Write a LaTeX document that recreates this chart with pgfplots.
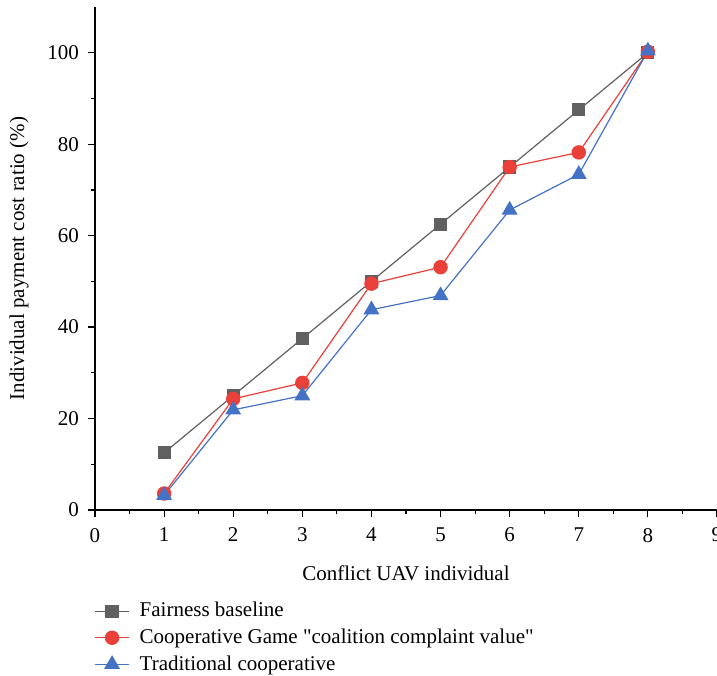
\documentclass[border=0pt]{standalone}
\usepackage{pgfplots}
\pgfplotsset{compat=1.18}
\usepackage{fontspec}
\setmainfont{Liberation Serif}[Ligatures=TeXOff]
\definecolor{cgray}{RGB}{96,96,96}
\definecolor{cred}{RGB}{234,64,58}
\definecolor{cblue}{RGB}{68,114,196}
\begin{document}
\begin{tikzpicture}
\begin{axis}[
  name=ax,
  scale only axis,
  width=311pt, height=251.5pt,
  xmin=0, xmax=9, ymin=0, ymax=110,
  axis x line*=bottom, axis y line*=left,
  axis line style={black, line width=0.6pt, -},
  xtick={0,...,9}, ytick={0,20,40,60,80,100},
  minor x tick num=1, minor y tick num=1,
  tick align=outside,
  major tick length=3.5pt, minor tick length=2pt,
  tick style={black, line width=0.6pt},
  /pgf/number format/assume math mode=true,
  ticklabel style={font=\fontsize{10.5}{12}\selectfont},
  xticklabel style={yshift=-2pt},
  yticklabel style={xshift=-1pt},
  xlabel={Conflict UAV individual},
  ylabel={Individual payment cost ratio (\%)},
  label style={font=\fontsize{10.5}{12}\selectfont},
  xlabel style={yshift=-5pt},
  ylabel style={yshift=2.5pt},
  clip=false,
  legend style={at={(0,0)}, anchor=north west, yshift=-42pt, xshift=-3.5pt, draw=none, fill=none,
    font=\fontsize{10.5}{12}\selectfont, row sep=0.5pt},
  legend cell align=left,
]
\addplot[color=cgray, line width=0.6pt, mark=square*, mark size=3pt, mark options={fill=cgray, draw=cgray}]
 coordinates {(1,12.5)(2,25)(3,37.5)(4,50)(5,62.5)(6,75)(7,87.5)(8,100)};
\addlegendentry{\hspace{3pt}Fairness baseline}
\addplot[color=cred, line width=0.6pt, mark=*, mark size=3.3pt, mark options={fill=cred, draw=cred}]
 coordinates {(1,3.6)(2,24.3)(3,27.8)(4,49.5)(5,53.1)(6,75)(7,78.2)(8,100.2)};
\addlegendentry{\hspace{3pt}Cooperative Game "coalition complaint value"}
\addplot[color=cblue, line width=0.6pt, mark=triangle*, mark size=4pt, mark options={fill=cblue, draw=cblue}]
 coordinates {(1,3.2)(2,21.9)(3,25)(4,43.8)(5,46.9)(6,65.6)(7,73.4)(8,100.4)};
\addlegendentry{\hspace{3pt}Traditional cooperative}
\end{axis}
\pgfresetboundingbox
\path[use as bounding box] ([xshift=-47.5pt,yshift=-82.5pt]ax.south west) rectangle ([xshift=311pt,yshift=255pt]ax.south west);
\end{tikzpicture}
\end{document}
